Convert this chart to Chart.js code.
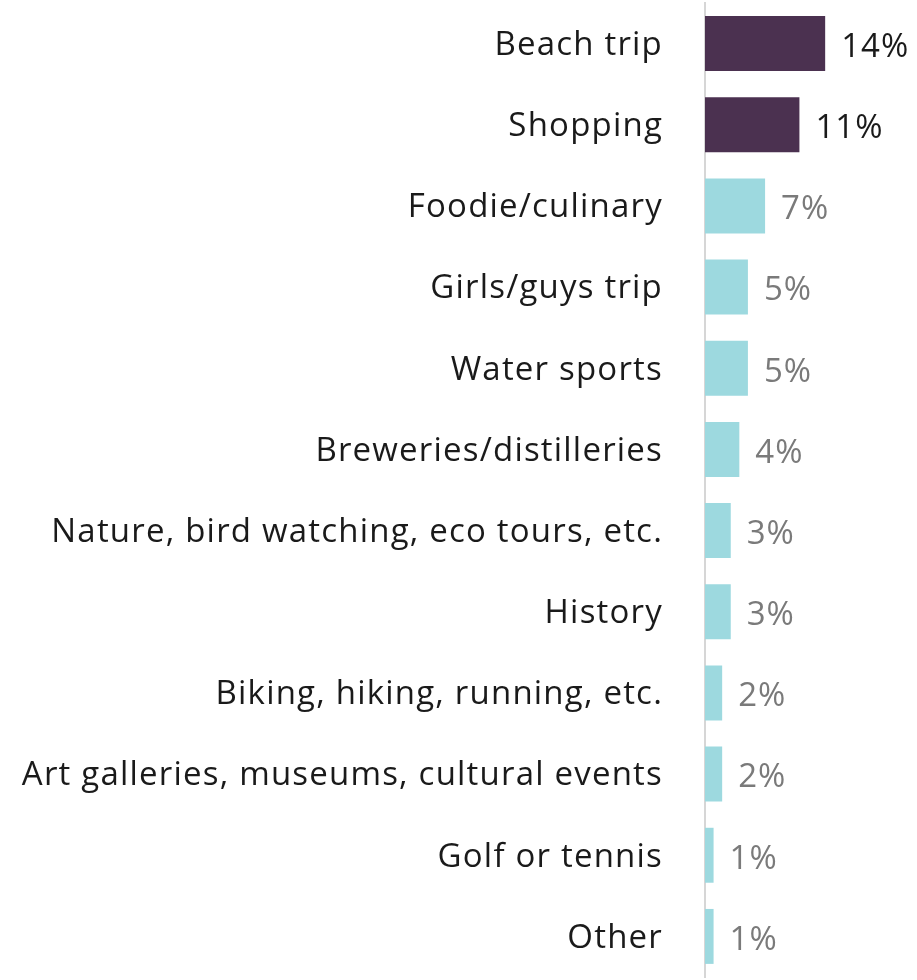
<!DOCTYPE html>
<html>
<head>
<meta charset="utf-8">
<script src="https://cdn.jsdelivr.net/npm/chart.js@4"></script>
<style>
  html, body { margin: 0; padding: 0; background: #fff; }
  #wrap { width: 917px; height: 980px; }
</style>
</head>
<body>
<div id="wrap"><canvas id="myChart" width="917" height="980"></canvas></div>
<script>
const categories = [
  'Beach trip', 'Shopping', 'Foodie/culinary', 'Girls/guys trip', 'Water sports',
  'Breweries/distilleries', 'Nature, bird watching, eco tours, etc.', 'History',
  'Biking, hiking, running, etc.', 'Art galleries, museums, cultural events',
  'Golf or tennis', 'Other'
];
const percentValues = [14, 11, 7, 5, 5, 4, 3, 3, 2, 2, 1, 1];
const highlightCount = 2; // top two bars drawn dark

const PURPLE = '#4b3150';
const TEAL = '#9dd9df';
const FONT = '"Open Sans", Lato, sans-serif';

// widen the text a bit, the original font runs wider than Open Sans
const spacing = {
  id: 'spacing',
  beforeDraw(chart) {
    chart.ctx.save();
    chart.ctx.letterSpacing = '1.2px';
  },
  afterDraw(chart) {
    chart.ctx.restore();
  }
};

// simple value labels at the end of each bar
const valueLabels = {
  id: 'valueLabels',
  afterDatasetsDraw(chart) {
    const ctx = chart.ctx;
    const meta = chart.getDatasetMeta(0);
    ctx.save();
    ctx.font = '33px ' + FONT;
    ctx.letterSpacing = '1px';
    ctx.textBaseline = 'middle';
    ctx.textAlign = 'left';
    meta.data.forEach((bar, i) => {
      ctx.fillStyle = i < highlightCount ? '#1a1a1a' : '#7a7a7a';
      ctx.fillText(percentValues[i] + '%', bar.x + 16, bar.y + 4);
    });
    ctx.restore();
  }
};

const config = {
  type: 'bar',
  data: {
    labels: categories,
    datasets: [{
      data: percentValues,
      backgroundColor: percentValues.map((v, i) => i < highlightCount ? PURPLE : TEAL),
      borderWidth: 0,
      barPercentage: 0.677,
      categoryPercentage: 1
    }]
  },
  options: {
    indexAxis: 'y',
    responsive: false,
    animation: false,
    layout: { padding: { top: 3, bottom: 3, left: 0, right: 6 } },
    plugins: { legend: { display: false }, tooltip: { enabled: false } },
    scales: {
      x: { display: false, min: 0, max: 24 },
      y: {
        afterFit(scale) {
          scale.width = 705;
          scale.paddingTop = 0;
          scale.paddingBottom = 0;
        },
        grid: { display: false, drawTicks: false },
        border: { display: true, color: '#d6d6d6', width: 2 },
        ticks: {
          padding: 42,
          labelOffset: 2,
          autoSkip: false,
          color: '#1a1a1a',
          font: { family: FONT, size: 33 }
        }
      }
    }
  },
  plugins: [spacing, valueLabels]
};

const myChart = new Chart(document.getElementById('myChart'), config);
</script>
</body>
</html>
